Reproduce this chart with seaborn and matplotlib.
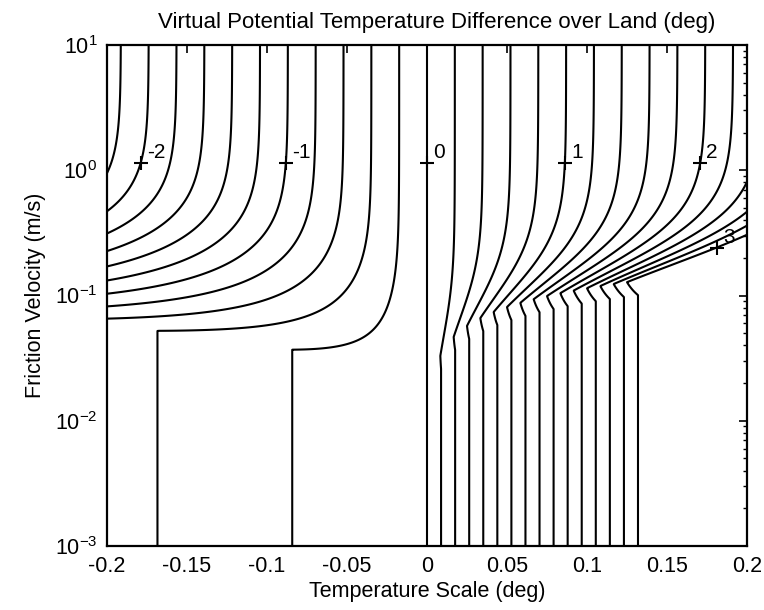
import numpy as np
import matplotlib
matplotlib.use("Agg")
import matplotlib.pyplot as plt
from matplotlib.ticker import LogLocator, NullFormatter
import seaborn as sns

# ---------------- data ----------------
temp_scale_range = [-0.2, 0.2]          # deg
friction_velocity_range = [1e-3, 1e1]   # m/s
contour_levels = [-2.2, -2.0, -1.8, -1.6, -1.4, -1.2, -1.0, -0.8, -0.6, -0.4, -0.2,
                  0.0, 0.2, 0.4, 0.6, 0.8, 1.0, 1.2, 1.4, 1.6, 1.8, 2.0, 2.2,
                  2.4, 2.6, 2.8, 3.0]
labelled_levels = [-2, -1, 0, 1, 2, 3]
label_texts = ["-2", "-1", "0", "1", "2", "3"]
x_ticks = [-0.2, -0.15, -0.1, -0.05, 0.0, 0.05, 0.1, 0.15, 0.2]
x_tick_labels = ["-0.2", "-0.15", "-0.1", "-0.05", "0", "0.05", "0.1", "0.15", "0.2"]
y_ticks = [1e-3, 1e-2, 1e-1, 1e0, 1e1]

# surface-layer similarity parameters (fitted to the reference contours)
von_karman = 0.4
log_height_ratio = 4.6        # ln(z / z0)
stability_coef = 0.1307       # z * k * g / T
stable_slope = 5.0
stable_zeta_cap = 1.0
stable_relax_amp = 0.5
stable_relax_span = 0.7
unstable_coef = 16.0
unstable_zeta_floor = -8.07

# ---------------- field ----------------
theta = np.linspace(temp_scale_range[0], temp_scale_range[1], 1201)
ustar = np.logspace(np.log10(friction_velocity_range[0]),
                    np.log10(friction_velocity_range[1]), 1201)
TH, U = np.meshgrid(theta, ustar)
zeta = stability_coef * TH / U**2

zu = np.maximum(zeta, unstable_zeta_floor)
psi_unstable = 2.0 * np.log((1.0 + np.sqrt(1.0 - unstable_coef * np.minimum(zu, 0))) / 2.0)
zs = np.maximum(zeta, 0)
psi_stable = -stable_slope * np.minimum(zs, stable_zeta_cap)
over = np.maximum(zs - stable_zeta_cap, 0)
psi_stable = psi_stable + stable_relax_amp * np.minimum(over / stable_relax_span, 1.0)
psi = np.where(zeta < 0, psi_unstable, psi_stable)
dtheta_v = TH / von_karman * (log_height_ratio - psi)

# ---------------- plot ----------------
sns.set_style("white")
plt.rcParams["font.family"] = ["Liberation Sans", "DejaVu Sans"]
plt.rcParams["mathtext.fontset"] = "custom"
plt.rcParams["mathtext.rm"] = "Liberation Sans"
plt.rcParams["mathtext.it"] = "Liberation Sans:italic"

fig = plt.figure(figsize=(7.64, 6.10), dpi=100)
ax = fig.add_axes([107 / 764, 1 - 546 / 610, 640 / 764, 501 / 610])

ax.contour(TH, U, dtheta_v, levels=contour_levels, colors="black",
           linewidths=1.5, linestyles="solid")

# contour labels: '+' on the contour with the value beside it
row = np.argmin(np.abs(ustar - 1.14))
for lev, txt in zip(labelled_levels, label_texts):
    if lev < 3:
        xl = np.interp(lev, dtheta_v[row], theta)
        yl = ustar[row]
    else:
        col = np.argmin(np.abs(theta - 0.181))
        vals = dtheta_v[:, col]
        mask = ustar > 0.15
        yl = np.interp(lev, vals[mask][::-1], ustar[mask][::-1])
        xl = theta[col]
    ax.plot([xl], [yl], marker="+", color="black", ms=10, mew=1.5)
    ax.annotate(txt, (xl, yl), xytext=(4.5, 3.5), textcoords="offset points",
                ha="left", va="baseline", fontsize=15, color="black")

ax.set_yscale("log")
ax.set_xlim(temp_scale_range)
ax.set_ylim(friction_velocity_range)
ax.set_xticks(x_ticks)
ax.set_xticklabels(x_tick_labels)
ax.set_yticks(y_ticks)
ax.yaxis.set_minor_locator(LogLocator(base=10, subs=np.arange(2, 10)))
ax.yaxis.set_minor_formatter(NullFormatter())

ax.tick_params(which="both", direction="in", top=True, right=True, colors="black",
               labelsize=15.5)
ax.tick_params(which="major", length=6, width=1.2, pad=7)
ax.tick_params(which="minor", length=3, width=1.0)
for s in ax.spines.values():
    s.set_color("black")
    s.set_linewidth(1.6)

ax.set_title("Virtual Potential Temperature Difference over Land (deg)",
             fontsize=16, pad=12, color="black", x=0.515)
ax.set_xlabel("Temperature Scale (deg)", fontsize=15.5, color="black", labelpad=3)
ax.set_ylabel("Friction Velocity (m/s)", fontsize=15.5, color="black", labelpad=6)

fig.savefig("out.png", dpi=100)
